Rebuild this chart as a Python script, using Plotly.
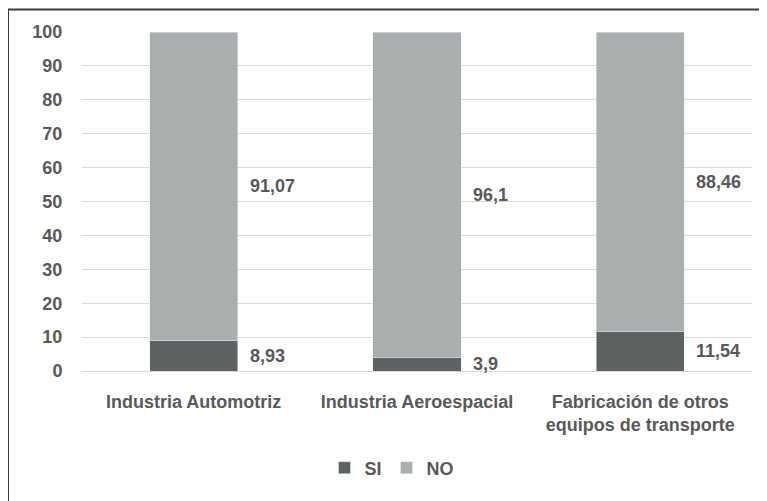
import plotly.graph_objects as go

categories = ["Industria Automotriz", "Industria Aeroespacial", "Fabricación de otros<br>equipos de transporte"]
si_values = [8.93, 3.9, 11.54]
no_values = [91.07, 96.1, 88.46]
y_ticks = [0, 10, 20, 30, 40, 50, 60, 70, 80, 90, 100]

FONT = "Liberation Sans, Arial, sans-serif"
TXT = "#595959"
SI_COLOR = "#5f6262"
NO_COLOR = "#abaeaf"

def fmt(v):
    return ("%g" % v).replace(".", ",")

def bfont(size=18):
    return dict(family=FONT, size=size, color=TXT, weight="bold")

fig = go.Figure()
fig.add_trace(go.Bar(name="SI", x=categories, y=si_values, marker_color=SI_COLOR, width=0.395))
fig.add_trace(go.Bar(name="NO", x=categories, y=no_values, marker_color=NO_COLOR, width=0.395))

annotations = []
for c, s, n in zip(categories, si_values, no_values):
    annotations.append(dict(x=c, y=s / 2, xref="x", yref="y", text=fmt(s), showarrow=False,
                            xanchor="left", yanchor="middle", xshift=54, font=bfont()))
    annotations.append(dict(x=c, y=s + n / 2, xref="x", yref="y", text=fmt(n), showarrow=False,
                            xanchor="left", yanchor="middle", xshift=54, font=bfont()))

# page body has an 8px default margin; figure is sized to fill the rest of the window
OFF = 8
W, H = 767 - OFF, 501 - OFF
L, R, T, B = 82 - OFF, 15, 32 - OFF, 130
pw, ph = W - L - R, H - T - B

def px_x(p):
    return (p - OFF - L) / pw

def px_y(p):
    return (H - B - (p - OFF)) / ph

fig.add_shape(type="rect", xref="paper", yref="paper",
              x0=px_x(8), x1=px_x(780), y0=px_y(9.5), y1=px_y(515),
              line=dict(color="#3a3a3a", width=2), fillcolor="rgba(0,0,0,0)", layer="below")

fig.update_layout(
    barmode="stack",
    width=W, height=H,
    margin=dict(l=L, r=R, t=T, b=B),
    paper_bgcolor="white", plot_bgcolor="white",
    font=bfont(),
    annotations=annotations,
    showlegend=True,
    legend=dict(orientation="h", x=px_x(392), xanchor="center", y=px_y(468), yanchor="middle",
                font=bfont(), itemwidth=30, traceorder="normal"),
    xaxis=dict(showgrid=False, showline=False, ticks="outside", ticklen=14, tickcolor="rgba(0,0,0,0)",
               tickfont=bfont()),
    yaxis=dict(range=[0, 100], tickvals=y_ticks, showgrid=True, gridcolor="#d9d9d9", gridwidth=1,
               zeroline=True, zerolinecolor="#d9d9d9", zerolinewidth=1, showline=False,
               ticks="outside", ticklen=15, tickcolor="rgba(0,0,0,0)",
               tickfont=bfont()),
)

fig.write_html("out.html")
